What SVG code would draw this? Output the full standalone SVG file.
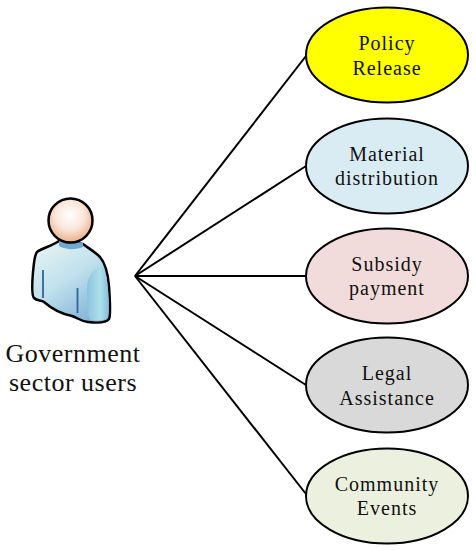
<svg xmlns="http://www.w3.org/2000/svg" width="476" height="550" viewBox="0 0 476 550">
<style>
.n{stroke:#000;stroke-width:2}
.t{font-family:"Liberation Serif","Times New Roman",serif;font-size:20px;fill:#111;text-anchor:middle;letter-spacing:1px}
.u{font-size:26px;letter-spacing:.5px}
#connectors line{stroke:#000;stroke-width:2}
</style>
<defs>
<radialGradient id="head" cx=".48" cy=".38" r=".65"><stop offset="0" stop-color="#fff"/><stop offset=".5" stop-color="#fbe6dc"/><stop offset="1" stop-color="#eba97f"/></radialGradient>
<linearGradient id="body" x1=".1" y1="0" x2=".75" y2="1"><stop offset="0" stop-color="#e8f4f4"/><stop offset=".5" stop-color="#bfe0ec"/><stop offset="1" stop-color="#7fb2d6"/></linearGradient>
<linearGradient id="arm" x1="0" y1="0" x2="1" y2="0"><stop offset="0" stop-color="#8cc3de"/><stop offset=".6" stop-color="#aee0ea"/><stop offset="1" stop-color="#84bfdc"/></linearGradient>
</defs>
<rect width="476" height="550" fill="#fff"/>
<g id="connectors">
<line x1="135" y1="276" x2="306" y2="56"/>
<line x1="135" y1="276" x2="306" y2="166"/>
<line x1="135" y1="276" x2="306" y2="276"/>
<line x1="135" y1="276" x2="306" y2="385"/>
<line x1="135" y1="276" x2="306" y2="494"/>
</g>
<g id="user">
<path d="M59 241C52 246 42 248 37 252C34 256 34 264 33 272C32 284 32 296 34 298C37 301 41 300 44 302C52 309 62 314 72 316C78 318 80 321 88 322C96 323 106 323 109 319C111 315 110 300 109 286C108 274 106 264 100 257C94 251 88 248 83 244Z" fill="url(#body)" stroke="#000" stroke-width="2.500" stroke-linejoin="round"/>
<path d="M108 317C105 321 96 321 90 320C87 314 87 300 87 288C87 278 92 270 102 265C106 272 107 280 108 290C109 300 109 312 108 317Z" fill="url(#arm)"/>
<path d="M59 240L83 243L83 247C76 250 66 250 59 246Z" fill="#6fa9d3"/>
<path d="M43 270V298M77.500 288V313" fill="none" stroke="#2f6699" stroke-width="1.800"/>
<circle cx="70.500" cy="220.500" r="22" fill="url(#head)" stroke="#000" stroke-width="2.500"/>
<text class="t u" x="73" y="362">Government</text>
<text class="t u" x="73" y="391">sector users</text>
</g>
<g id="policy"><ellipse class="n" cx="387" cy="55" rx="81" ry="47.500" fill="#ffff00"/><text class="t" x="387" y="50">Policy</text><text class="t" x="387" y="75">Release</text></g>
<g id="material"><ellipse class="n" cx="387" cy="166" rx="81" ry="47.500" fill="#daecf3"/><text class="t" x="387" y="161">Material</text><text class="t" x="387" y="185">distribution</text></g>
<g id="subsidy"><ellipse class="n" cx="387" cy="276" rx="81" ry="47.500" fill="#f2dcdb"/><text class="t" x="387" y="271">Subsidy</text><text class="t" x="387" y="295">payment</text></g>
<g id="legal"><ellipse class="n" cx="387" cy="385" rx="81" ry="47.500" fill="#d9d9d9"/><text class="t" x="387" y="380">Legal</text><text class="t" x="387" y="405">Assistance</text></g>
<g id="community"><ellipse class="n" cx="387" cy="496" rx="81" ry="47.500" fill="#ebf1de"/><text class="t" x="387" y="491">Community</text><text class="t" x="387" y="515">Events</text></g>
</svg>
